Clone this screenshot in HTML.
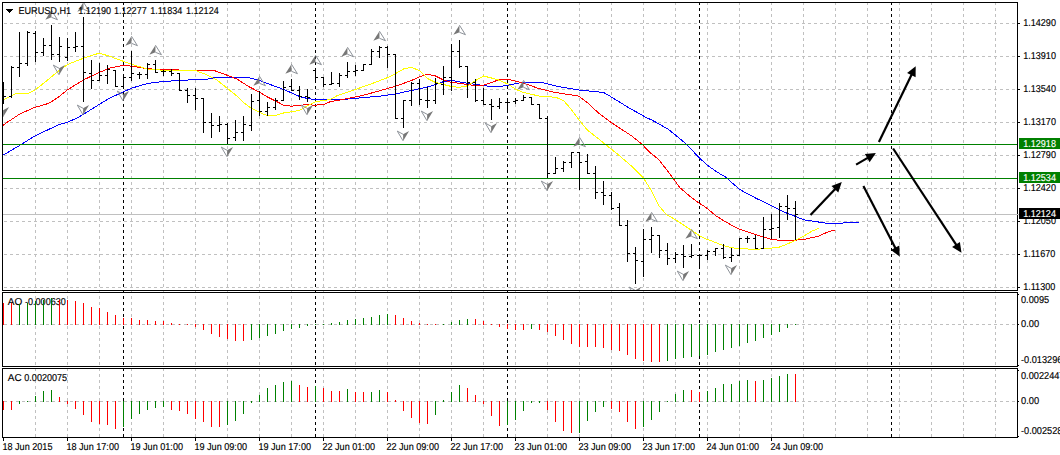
<!DOCTYPE html>
<html lang="en"><head><meta charset="utf-8"><title>EURUSD,H1</title>
<style>
html,body{margin:0;padding:0;background:#fff;}
body{width:1060px;height:455px;overflow:hidden;position:relative;font-family:"Liberation Sans",Arial,sans-serif;}
svg{display:block}
</style></head><body>
<svg width="1060" height="455" viewBox="0 0 1060 455" style="position:absolute;left:0;top:0">
<rect x="0" y="0" width="1060" height="455" fill="#ffffff"/>
<g shape-rendering="crispEdges">
<g stroke="#c0c0c0" stroke-width="1" stroke-dasharray="3 3" fill="none">
<line x1="35.5" y1="2" x2="35.5" y2="437"/>
<line x1="67.5" y1="2" x2="67.5" y2="437"/>
<line x1="99.5" y1="2" x2="99.5" y2="437"/>
<line x1="131.5" y1="2" x2="131.5" y2="437"/>
<line x1="163.5" y1="2" x2="163.5" y2="437"/>
<line x1="195.5" y1="2" x2="195.5" y2="437"/>
<line x1="227.5" y1="2" x2="227.5" y2="437"/>
<line x1="259.5" y1="2" x2="259.5" y2="437"/>
<line x1="291.5" y1="2" x2="291.5" y2="437"/>
<line x1="323.5" y1="2" x2="323.5" y2="437"/>
<line x1="355.5" y1="2" x2="355.5" y2="437"/>
<line x1="387.5" y1="2" x2="387.5" y2="437"/>
<line x1="419.5" y1="2" x2="419.5" y2="437"/>
<line x1="451.5" y1="2" x2="451.5" y2="437"/>
<line x1="483.5" y1="2" x2="483.5" y2="437"/>
<line x1="515.5" y1="2" x2="515.5" y2="437"/>
<line x1="547.5" y1="2" x2="547.5" y2="437"/>
<line x1="579.5" y1="2" x2="579.5" y2="437"/>
<line x1="611.5" y1="2" x2="611.5" y2="437"/>
<line x1="643.5" y1="2" x2="643.5" y2="437"/>
<line x1="675.5" y1="2" x2="675.5" y2="437"/>
<line x1="707.5" y1="2" x2="707.5" y2="437"/>
<line x1="739.5" y1="2" x2="739.5" y2="437"/>
<line x1="771.5" y1="2" x2="771.5" y2="437"/>
<line x1="803.5" y1="2" x2="803.5" y2="437"/>
<line x1="835.5" y1="2" x2="835.5" y2="437"/>
<line x1="867.5" y1="2" x2="867.5" y2="437"/>
<line x1="899.5" y1="2" x2="899.5" y2="437"/>
<line x1="931.5" y1="2" x2="931.5" y2="437"/>
<line x1="963.5" y1="2" x2="963.5" y2="437"/>
<line x1="995.5" y1="2" x2="995.5" y2="437"/>
<line x1="4" y1="23.5" x2="1017" y2="23.5"/>
<line x1="4" y1="56.5" x2="1017" y2="56.5"/>
<line x1="4" y1="89.5" x2="1017" y2="89.5"/>
<line x1="4" y1="122.5" x2="1017" y2="122.5"/>
<line x1="4" y1="155.5" x2="1017" y2="155.5"/>
<line x1="4" y1="188.5" x2="1017" y2="188.5"/>
<line x1="4" y1="221.5" x2="1017" y2="221.5"/>
<line x1="4" y1="254.5" x2="1017" y2="254.5"/>
<line x1="4" y1="287.5" x2="1017" y2="287.5"/>
<line x1="4" y1="324.5" x2="1017" y2="324.5"/>
<line x1="4" y1="401.5" x2="1017" y2="401.5"/>
</g>
<rect x="0" y="367" width="1060" height="1" fill="#ffffff"/>
<g stroke="#000000" stroke-width="1" stroke-dasharray="3 3" fill="none">
<line x1="123.5" y1="2" x2="123.5" y2="437"/>
<line x1="315.5" y1="2" x2="315.5" y2="437"/>
<line x1="507.5" y1="2" x2="507.5" y2="437"/>
<line x1="699.5" y1="2" x2="699.5" y2="437"/>
<line x1="891.5" y1="2" x2="891.5" y2="437"/>
</g>
<rect x="0" y="367" width="1060" height="1" fill="#ffffff"/>
<rect x="3" y="214" width="1016" height="1" fill="#c0c0c0"/>
</g>
<g font-family="'Liberation Sans', Arial, sans-serif" font-size="10px" text-rendering="geometricPrecision">
<text transform="translate(7.8,304.85) scale(1.0,1)" fill="#000" stroke="#000" stroke-width="0.15">AO</text>
<text transform="translate(25.0,304.85) scale(0.905,1)" fill="#000" stroke="#000" stroke-width="0.15">-0.000630</text>
<text transform="translate(7.8,380.85) scale(1.0,1)" fill="#000" stroke="#000" stroke-width="0.15">AC</text>
<text transform="translate(24.3,380.85) scale(0.905,1)" fill="#000" stroke="#000" stroke-width="0.15">0.0020075</text>
</g>
<g shape-rendering="crispEdges">
<rect x="3" y="303" width="1" height="22" fill="#ff0000"/>
<rect x="11" y="303" width="1" height="22" fill="#ff0000"/>
<rect x="19" y="304" width="1" height="21" fill="#008000"/>
<rect x="27" y="303" width="1" height="22" fill="#008000"/>
<rect x="35" y="301" width="1" height="24" fill="#008000"/>
<rect x="43" y="300" width="1" height="25" fill="#008000"/>
<rect x="51" y="298" width="1" height="27" fill="#008000"/>
<rect x="59" y="300" width="1" height="25" fill="#ff0000"/>
<rect x="67" y="300" width="1" height="25" fill="#ff0000"/>
<rect x="75" y="301" width="1" height="24" fill="#ff0000"/>
<rect x="83" y="303" width="1" height="22" fill="#ff0000"/>
<rect x="91" y="307" width="1" height="18" fill="#ff0000"/>
<rect x="99" y="308" width="1" height="17" fill="#ff0000"/>
<rect x="107" y="312" width="1" height="13" fill="#ff0000"/>
<rect x="115" y="315" width="1" height="10" fill="#ff0000"/>
<rect x="123" y="318" width="1" height="7" fill="#ff0000"/>
<rect x="131" y="318" width="1" height="7" fill="#ff0000"/>
<rect x="139" y="320" width="1" height="5" fill="#ff0000"/>
<rect x="147" y="320" width="1" height="5" fill="#ff0000"/>
<rect x="155" y="321" width="1" height="4" fill="#ff0000"/>
<rect x="163" y="321" width="1" height="4" fill="#ff0000"/>
<rect x="171" y="323" width="1" height="2" fill="#ff0000"/>
<rect x="179" y="324" width="1" height="1" fill="#ff0000"/>
<rect x="187" y="324" width="1" height="1" fill="#ff0000"/>
<rect x="195" y="324" width="1" height="3" fill="#ff0000"/>
<rect x="203" y="324" width="1" height="6" fill="#ff0000"/>
<rect x="211" y="324" width="1" height="10" fill="#ff0000"/>
<rect x="219" y="324" width="1" height="13" fill="#ff0000"/>
<rect x="227" y="324" width="1" height="15" fill="#ff0000"/>
<rect x="235" y="324" width="1" height="17" fill="#ff0000"/>
<rect x="243" y="324" width="1" height="17" fill="#ff0000"/>
<rect x="251" y="324" width="1" height="16" fill="#008000"/>
<rect x="259" y="324" width="1" height="14" fill="#008000"/>
<rect x="267" y="324" width="1" height="12" fill="#008000"/>
<rect x="275" y="324" width="1" height="10" fill="#008000"/>
<rect x="283" y="324" width="1" height="7" fill="#008000"/>
<rect x="291" y="324" width="1" height="5" fill="#008000"/>
<rect x="299" y="324" width="1" height="4" fill="#008000"/>
<rect x="307" y="324" width="1" height="2" fill="#008000"/>
<rect x="315" y="324" width="1" height="1" fill="#008000"/>
<rect x="323" y="324" width="1" height="1" fill="#008000"/>
<rect x="331" y="323" width="1" height="2" fill="#008000"/>
<rect x="339" y="322" width="1" height="3" fill="#008000"/>
<rect x="347" y="320" width="1" height="5" fill="#008000"/>
<rect x="355" y="319" width="1" height="6" fill="#008000"/>
<rect x="363" y="318" width="1" height="7" fill="#008000"/>
<rect x="371" y="317" width="1" height="8" fill="#008000"/>
<rect x="379" y="315" width="1" height="10" fill="#008000"/>
<rect x="387" y="314" width="1" height="11" fill="#008000"/>
<rect x="395" y="315" width="1" height="10" fill="#ff0000"/>
<rect x="403" y="318" width="1" height="7" fill="#ff0000"/>
<rect x="411" y="321" width="1" height="4" fill="#ff0000"/>
<rect x="419" y="323" width="1" height="2" fill="#ff0000"/>
<rect x="427" y="324" width="1" height="1" fill="#ff0000"/>
<rect x="435" y="324" width="1" height="1" fill="#ff0000"/>
<rect x="443" y="324" width="1" height="1" fill="#008000"/>
<rect x="451" y="322" width="1" height="3" fill="#008000"/>
<rect x="459" y="320" width="1" height="5" fill="#008000"/>
<rect x="467" y="319" width="1" height="6" fill="#008000"/>
<rect x="475" y="319" width="1" height="6" fill="#ff0000"/>
<rect x="483" y="321" width="1" height="4" fill="#ff0000"/>
<rect x="491" y="324" width="1" height="1" fill="#ff0000"/>
<rect x="499" y="324" width="1" height="3" fill="#ff0000"/>
<rect x="507" y="324" width="1" height="5" fill="#ff0000"/>
<rect x="515" y="324" width="1" height="6" fill="#ff0000"/>
<rect x="523" y="324" width="1" height="6" fill="#ff0000"/>
<rect x="531" y="324" width="1" height="5" fill="#008000"/>
<rect x="539" y="324" width="1" height="6" fill="#ff0000"/>
<rect x="547" y="324" width="1" height="8" fill="#ff0000"/>
<rect x="555" y="324" width="1" height="12" fill="#ff0000"/>
<rect x="563" y="324" width="1" height="16" fill="#ff0000"/>
<rect x="571" y="324" width="1" height="20" fill="#ff0000"/>
<rect x="579" y="324" width="1" height="23" fill="#ff0000"/>
<rect x="587" y="324" width="1" height="23" fill="#ff0000"/>
<rect x="595" y="324" width="1" height="23" fill="#ff0000"/>
<rect x="603" y="324" width="1" height="24" fill="#ff0000"/>
<rect x="611" y="324" width="1" height="26" fill="#ff0000"/>
<rect x="619" y="324" width="1" height="27" fill="#ff0000"/>
<rect x="627" y="324" width="1" height="31" fill="#ff0000"/>
<rect x="635" y="324" width="1" height="35" fill="#ff0000"/>
<rect x="643" y="324" width="1" height="37" fill="#ff0000"/>
<rect x="651" y="324" width="1" height="38" fill="#ff0000"/>
<rect x="659" y="324" width="1" height="38" fill="#ff0000"/>
<rect x="667" y="324" width="1" height="37" fill="#008000"/>
<rect x="675" y="324" width="1" height="35" fill="#008000"/>
<rect x="683" y="324" width="1" height="34" fill="#008000"/>
<rect x="691" y="324" width="1" height="33" fill="#008000"/>
<rect x="699" y="324" width="1" height="32" fill="#008000"/>
<rect x="707" y="324" width="1" height="31" fill="#008000"/>
<rect x="715" y="324" width="1" height="28" fill="#008000"/>
<rect x="723" y="324" width="1" height="26" fill="#008000"/>
<rect x="731" y="324" width="1" height="24" fill="#008000"/>
<rect x="739" y="324" width="1" height="22" fill="#008000"/>
<rect x="747" y="324" width="1" height="19" fill="#008000"/>
<rect x="755" y="324" width="1" height="17" fill="#008000"/>
<rect x="763" y="324" width="1" height="14" fill="#008000"/>
<rect x="771" y="324" width="1" height="11" fill="#008000"/>
<rect x="779" y="324" width="1" height="8" fill="#008000"/>
<rect x="787" y="324" width="1" height="4" fill="#008000"/>
<rect x="795" y="324" width="1" height="1" fill="#008000"/>
<rect x="3" y="401" width="1" height="9" fill="#ff0000"/>
<rect x="11" y="401" width="1" height="9" fill="#ff0000"/>
<rect x="19" y="401" width="1" height="3" fill="#008000"/>
<rect x="27" y="401" width="1" height="1" fill="#008000"/>
<rect x="35" y="396" width="1" height="6" fill="#008000"/>
<rect x="43" y="391" width="1" height="11" fill="#008000"/>
<rect x="51" y="390" width="1" height="12" fill="#008000"/>
<rect x="59" y="397" width="1" height="5" fill="#ff0000"/>
<rect x="67" y="401" width="1" height="3" fill="#ff0000"/>
<rect x="75" y="401" width="1" height="8" fill="#ff0000"/>
<rect x="83" y="401" width="1" height="14" fill="#ff0000"/>
<rect x="91" y="401" width="1" height="21" fill="#ff0000"/>
<rect x="99" y="401" width="1" height="23" fill="#ff0000"/>
<rect x="107" y="401" width="1" height="24" fill="#ff0000"/>
<rect x="115" y="401" width="1" height="28" fill="#ff0000"/>
<rect x="123" y="401" width="1" height="26" fill="#008000"/>
<rect x="131" y="401" width="1" height="18" fill="#008000"/>
<rect x="139" y="401" width="1" height="13" fill="#008000"/>
<rect x="147" y="401" width="1" height="9" fill="#008000"/>
<rect x="155" y="401" width="1" height="7" fill="#008000"/>
<rect x="163" y="401" width="1" height="6" fill="#008000"/>
<rect x="171" y="401" width="1" height="9" fill="#ff0000"/>
<rect x="179" y="401" width="1" height="10" fill="#ff0000"/>
<rect x="187" y="401" width="1" height="13" fill="#ff0000"/>
<rect x="195" y="401" width="1" height="18" fill="#ff0000"/>
<rect x="203" y="401" width="1" height="21" fill="#ff0000"/>
<rect x="211" y="401" width="1" height="26" fill="#ff0000"/>
<rect x="219" y="401" width="1" height="26" fill="#ff0000"/>
<rect x="227" y="401" width="1" height="24" fill="#008000"/>
<rect x="235" y="401" width="1" height="20" fill="#008000"/>
<rect x="243" y="401" width="1" height="13" fill="#008000"/>
<rect x="251" y="401" width="1" height="2" fill="#008000"/>
<rect x="259" y="395" width="1" height="7" fill="#008000"/>
<rect x="267" y="388" width="1" height="14" fill="#008000"/>
<rect x="275" y="385" width="1" height="17" fill="#008000"/>
<rect x="283" y="382" width="1" height="20" fill="#008000"/>
<rect x="291" y="381" width="1" height="21" fill="#008000"/>
<rect x="299" y="385" width="1" height="17" fill="#ff0000"/>
<rect x="307" y="387" width="1" height="15" fill="#ff0000"/>
<rect x="315" y="386" width="1" height="16" fill="#008000"/>
<rect x="323" y="388" width="1" height="14" fill="#ff0000"/>
<rect x="331" y="391" width="1" height="11" fill="#ff0000"/>
<rect x="339" y="391" width="1" height="11" fill="#ff0000"/>
<rect x="347" y="389" width="1" height="13" fill="#008000"/>
<rect x="355" y="392" width="1" height="10" fill="#ff0000"/>
<rect x="363" y="392" width="1" height="10" fill="#ff0000"/>
<rect x="371" y="392" width="1" height="10" fill="#008000"/>
<rect x="379" y="390" width="1" height="12" fill="#008000"/>
<rect x="387" y="392" width="1" height="10" fill="#ff0000"/>
<rect x="395" y="400" width="1" height="2" fill="#ff0000"/>
<rect x="403" y="401" width="1" height="10" fill="#ff0000"/>
<rect x="411" y="401" width="1" height="17" fill="#ff0000"/>
<rect x="419" y="401" width="1" height="22" fill="#ff0000"/>
<rect x="427" y="401" width="1" height="23" fill="#ff0000"/>
<rect x="435" y="401" width="1" height="14" fill="#008000"/>
<rect x="443" y="400" width="1" height="2" fill="#008000"/>
<rect x="451" y="392" width="1" height="10" fill="#008000"/>
<rect x="459" y="385" width="1" height="17" fill="#008000"/>
<rect x="467" y="388" width="1" height="14" fill="#ff0000"/>
<rect x="475" y="395" width="1" height="7" fill="#ff0000"/>
<rect x="483" y="401" width="1" height="3" fill="#ff0000"/>
<rect x="491" y="401" width="1" height="15" fill="#ff0000"/>
<rect x="499" y="401" width="1" height="25" fill="#ff0000"/>
<rect x="507" y="401" width="1" height="24" fill="#008000"/>
<rect x="515" y="401" width="1" height="19" fill="#008000"/>
<rect x="523" y="401" width="1" height="10" fill="#008000"/>
<rect x="531" y="401" width="1" height="2" fill="#008000"/>
<rect x="539" y="401" width="1" height="2" fill="#008000"/>
<rect x="547" y="401" width="1" height="9" fill="#ff0000"/>
<rect x="555" y="401" width="1" height="21" fill="#ff0000"/>
<rect x="563" y="401" width="1" height="30" fill="#ff0000"/>
<rect x="571" y="401" width="1" height="32" fill="#ff0000"/>
<rect x="579" y="401" width="1" height="32" fill="#008000"/>
<rect x="587" y="401" width="1" height="20" fill="#008000"/>
<rect x="595" y="401" width="1" height="11" fill="#008000"/>
<rect x="603" y="401" width="1" height="6" fill="#008000"/>
<rect x="611" y="401" width="1" height="8" fill="#ff0000"/>
<rect x="619" y="401" width="1" height="11" fill="#ff0000"/>
<rect x="627" y="401" width="1" height="21" fill="#ff0000"/>
<rect x="635" y="401" width="1" height="28" fill="#ff0000"/>
<rect x="643" y="401" width="1" height="26" fill="#008000"/>
<rect x="651" y="401" width="1" height="19" fill="#008000"/>
<rect x="659" y="401" width="1" height="11" fill="#008000"/>
<rect x="667" y="401" width="1" height="1" fill="#008000"/>
<rect x="675" y="394" width="1" height="8" fill="#008000"/>
<rect x="683" y="390" width="1" height="12" fill="#008000"/>
<rect x="691" y="390" width="1" height="12" fill="#ff0000"/>
<rect x="699" y="392" width="1" height="10" fill="#ff0000"/>
<rect x="707" y="391" width="1" height="11" fill="#008000"/>
<rect x="715" y="388" width="1" height="14" fill="#008000"/>
<rect x="723" y="384" width="1" height="18" fill="#008000"/>
<rect x="731" y="384" width="1" height="18" fill="#008000"/>
<rect x="739" y="381" width="1" height="21" fill="#008000"/>
<rect x="747" y="380" width="1" height="22" fill="#008000"/>
<rect x="755" y="381" width="1" height="21" fill="#ff0000"/>
<rect x="763" y="380" width="1" height="22" fill="#008000"/>
<rect x="771" y="378" width="1" height="24" fill="#008000"/>
<rect x="779" y="376" width="1" height="26" fill="#008000"/>
<rect x="787" y="374" width="1" height="28" fill="#008000"/>
<rect x="795" y="374" width="1" height="28" fill="#ff0000"/>
</g>
<polyline points="3.0,155.2 19.7,145.4 35.6,135.5 59.1,124.6 67.5,122.2 77.3,118.0 83.4,114.3 99.3,104.4 109.2,98.3 123.5,91.8 131.4,88.2 147.5,83.5 163.5,81.4 179.5,80.6 195.5,79.5 206.4,79.3 213.6,77.8 247.9,77.6 258.3,80.1 268.6,84.0 279.0,87.6 291.5,92.8 299.5,96.5 307.5,98.5 315.5,99.8 330.0,99.8 345.0,99.3 383.0,95.8 395.5,93.9 411.5,90.5 427.5,86.9 435.5,84.6 443.5,81.6 451.5,80.3 459.5,81.9 467.5,83.2 475.5,84.3 483.5,85.6 491.5,86.5 499.5,86.5 507.5,85.5 515.4,83.6 523.0,82.2 541.0,82.4 558.8,86.6 579.4,90.0 603.7,92.5 611.7,97.2 627.5,107.0 646.0,117.4 651.8,120.0 667.6,128.8 676.4,135.8 686.9,144.6 699.2,157.8 708.0,165.7 716.8,171.9 725.6,177.1 739.7,189.5 755.5,198.0 771.5,205.8 779.5,209.8 787.5,213.5 795.5,216.4 803.4,219.7 811.9,221.0 825.0,223.0 835.6,223.3 847.5,222.8 858.7,222.1" fill="none" stroke="#0000ff" stroke-width="1" shape-rendering="crispEdges"/>
<polyline points="3.0,125.4 6.3,122.9 20.0,113.9 34.8,107.3 45.3,104.5 50.6,102.3 59.0,96.6 67.4,89.9 83.3,80.0 99.3,72.3 110.4,68.0 123.5,65.3 131.4,66.2 147.5,68.7 163.5,69.8 179.5,70.0 196.0,70.0 213.6,70.3 227.1,75.2 237.5,79.3 247.9,86.1 259.5,92.2 267.5,97.0 275.5,101.0 283.5,105.1 291.5,106.2 299.5,105.1 307.5,104.9 315.5,105.1 323.5,104.5 330.0,101.8 345.0,99.0 361.4,95.8 379.5,90.8 395.5,86.2 411.5,80.5 419.5,76.7 427.5,74.2 435.5,76.0 443.5,80.0 451.5,82.5 459.5,83.2 467.5,84.5 475.5,85.6 483.5,85.2 491.5,82.5 499.5,79.5 507.5,79.2 515.5,81.2 523.4,83.0 539.0,88.6 555.5,92.5 578.6,96.1 587.9,103.1 598.5,113.0 611.7,122.9 624.9,131.5 631.1,135.5 641.7,143.9 650.0,152.5 658.8,159.6 667.6,171.0 672.9,178.0 679.9,187.7 689.5,196.0 699.4,203.3 706.0,207.5 716.3,216.0 723.5,220.6 731.5,225.2 739.5,229.2 755.5,234.6 771.5,239.5 779.5,240.2 795.5,240.2 805.3,239.1 818.5,236.2 827.7,232.0 835.0,230.0" fill="none" stroke="#ff0000" stroke-width="1" shape-rendering="crispEdges"/>
<polyline points="3.0,100.2 11.6,95.5 16.9,93.4 28.5,93.1 34.8,90.2 47.7,80.0 58.0,71.3 67.5,64.5 83.3,58.3 99.3,53.1 110.0,56.4 131.4,64.3 147.5,69.0 163.5,70.3 195.5,70.5 206.4,74.7 216.8,79.9 227.1,88.2 237.5,96.5 243.5,102.5 251.5,108.4 259.5,112.4 267.5,115.7 275.8,115.4 283.5,113.0 299.6,110.4 307.5,105.8 315.5,101.8 323.5,100.5 330.0,99.6 337.0,95.8 355.4,89.5 371.4,83.8 387.5,77.6 395.5,73.6 403.5,69.0 411.4,67.3 419.5,70.6 427.5,78.5 435.5,82.5 443.5,84.5 451.5,86.5 459.5,87.4 467.5,85.8 475.5,80.6 483.5,76.0 491.5,78.0 499.5,80.3 507.5,83.9 515.5,89.2 523.5,92.5 531.5,94.3 539.5,96.2 555.5,97.2 563.5,100.5 571.5,109.7 579.4,120.3 587.5,130.2 599.8,139.8 604.7,143.9 617.9,154.4 631.1,165.7 643.0,177.3 651.9,191.4 658.5,205.3 666.4,214.5 675.6,219.8 680.0,222.6 691.9,230.5 699.5,235.8 707.4,239.5 715.5,242.4 723.5,245.7 731.5,247.7 739.5,248.6 755.5,249.4 771.5,248.1 779.5,247.0 787.5,243.9 795.5,240.5 803.4,236.2 811.9,231.2 819.1,228.3" fill="none" stroke="#ffff00" stroke-width="1" shape-rendering="crispEdges"/>
<g shape-rendering="crispEdges">
<rect x="3" y="144" width="1014" height="1" fill="#008000"/>
<rect x="3" y="178" width="1014" height="1" fill="#008000"/>
</g>
<clipPath id="cm"><rect x="3" y="3" width="1014" height="287"/></clipPath>
<g clip-path="url(#cm)">
<polygon points="51.45,10.20 45.35,19.70 51.45,17.30" fill="#777777"/>
<polyline points="51.45,10.20 57.45,19.70 51.45,17.30" fill="none" stroke="#8d9299" stroke-width="1"/>
<polygon points="83.45,2.20 77.35,11.70 83.45,9.30" fill="#777777"/>
<polyline points="83.45,2.20 89.45,11.70 83.45,9.30" fill="none" stroke="#8d9299" stroke-width="1"/>
<polygon points="131.45,36.20 125.35,45.70 131.45,43.30" fill="#777777"/>
<polyline points="131.45,36.20 137.45,45.70 131.45,43.30" fill="none" stroke="#8d9299" stroke-width="1"/>
<polygon points="155.45,45.20 149.35,54.70 155.45,52.30" fill="#777777"/>
<polyline points="155.45,45.20 161.45,54.70 155.45,52.30" fill="none" stroke="#8d9299" stroke-width="1"/>
<polygon points="259.45,76.20 253.35,85.70 259.45,83.30" fill="#777777"/>
<polyline points="259.45,76.20 265.45,85.70 259.45,83.30" fill="none" stroke="#8d9299" stroke-width="1"/>
<polygon points="291.45,64.20 285.35,73.70 291.45,71.30" fill="#777777"/>
<polyline points="291.45,64.20 297.45,73.70 291.45,71.30" fill="none" stroke="#8d9299" stroke-width="1"/>
<polygon points="315.45,55.20 309.35,64.70 315.45,62.30" fill="#777777"/>
<polyline points="315.45,55.20 321.45,64.70 315.45,62.30" fill="none" stroke="#8d9299" stroke-width="1"/>
<polygon points="347.45,47.20 341.35,56.70 347.45,54.30" fill="#777777"/>
<polyline points="347.45,47.20 353.45,56.70 347.45,54.30" fill="none" stroke="#8d9299" stroke-width="1"/>
<polygon points="379.45,31.20 373.35,40.70 379.45,38.30" fill="#777777"/>
<polyline points="379.45,31.20 385.45,40.70 379.45,38.30" fill="none" stroke="#8d9299" stroke-width="1"/>
<polygon points="459.45,25.20 453.35,34.70 459.45,32.30" fill="#777777"/>
<polyline points="459.45,25.20 465.45,34.70 459.45,32.30" fill="none" stroke="#8d9299" stroke-width="1"/>
<polygon points="523.45,80.20 517.35,89.70 523.45,87.30" fill="#777777"/>
<polyline points="523.45,80.20 529.45,89.70 523.45,87.30" fill="none" stroke="#8d9299" stroke-width="1"/>
<polygon points="579.45,137.20 573.35,146.70 579.45,144.30" fill="#777777"/>
<polyline points="579.45,137.20 585.45,146.70 579.45,144.30" fill="none" stroke="#8d9299" stroke-width="1"/>
<polygon points="651.45,212.20 645.35,221.70 651.45,219.30" fill="#777777"/>
<polyline points="651.45,212.20 657.45,221.70 651.45,219.30" fill="none" stroke="#8d9299" stroke-width="1"/>
<polygon points="691.45,229.20 685.35,238.70 691.45,236.30" fill="#777777"/>
<polyline points="691.45,229.20 697.45,238.70 691.45,236.30" fill="none" stroke="#8d9299" stroke-width="1"/>
<polygon points="3.10,116.90 9.10,107.10 3.10,110.30" fill="#777777"/>
<polyline points="3.10,116.90 -2.70,107.10 3.10,110.30" fill="none" stroke="#8d9299" stroke-width="1"/>
<polygon points="59.10,74.90 65.10,65.10 59.10,68.30" fill="#777777"/>
<polyline points="59.10,74.90 53.30,65.10 59.10,68.30" fill="none" stroke="#8d9299" stroke-width="1"/>
<polygon points="83.10,114.90 89.10,105.10 83.10,108.30" fill="#777777"/>
<polyline points="83.10,114.90 77.30,105.10 83.10,108.30" fill="none" stroke="#8d9299" stroke-width="1"/>
<polygon points="123.10,100.90 129.10,91.10 123.10,94.30" fill="#777777"/>
<polyline points="123.10,100.90 117.30,91.10 123.10,94.30" fill="none" stroke="#8d9299" stroke-width="1"/>
<polygon points="227.10,156.90 233.10,147.10 227.10,150.30" fill="#777777"/>
<polyline points="227.10,156.90 221.30,147.10 227.10,150.30" fill="none" stroke="#8d9299" stroke-width="1"/>
<polygon points="307.10,114.90 313.10,105.10 307.10,108.30" fill="#777777"/>
<polyline points="307.10,114.90 301.30,105.10 307.10,108.30" fill="none" stroke="#8d9299" stroke-width="1"/>
<polygon points="403.10,140.90 409.10,131.10 403.10,134.30" fill="#777777"/>
<polyline points="403.10,140.90 397.30,131.10 403.10,134.30" fill="none" stroke="#8d9299" stroke-width="1"/>
<polygon points="427.10,120.90 433.10,111.10 427.10,114.30" fill="#777777"/>
<polyline points="427.10,120.90 421.30,111.10 427.10,114.30" fill="none" stroke="#8d9299" stroke-width="1"/>
<polygon points="491.10,132.90 497.10,123.10 491.10,126.30" fill="#777777"/>
<polyline points="491.10,132.90 485.30,123.10 491.10,126.30" fill="none" stroke="#8d9299" stroke-width="1"/>
<polygon points="547.10,190.90 553.10,181.10 547.10,184.30" fill="#777777"/>
<polyline points="547.10,190.90 541.30,181.10 547.10,184.30" fill="none" stroke="#8d9299" stroke-width="1"/>
<polygon points="635.10,296.90 641.10,287.10 635.10,290.30" fill="#777777"/>
<polyline points="635.10,296.90 629.30,287.10 635.10,290.30" fill="none" stroke="#8d9299" stroke-width="1"/>
<polygon points="683.10,280.90 689.10,271.10 683.10,274.30" fill="#777777"/>
<polyline points="683.10,280.90 677.30,271.10 683.10,274.30" fill="none" stroke="#8d9299" stroke-width="1"/>
<polygon points="731.10,274.90 737.10,265.10 731.10,268.30" fill="#777777"/>
<polyline points="731.10,274.90 725.30,265.10 731.10,268.30" fill="none" stroke="#8d9299" stroke-width="1"/>
</g>
<g shape-rendering="crispEdges">
<g fill="#000000">
<rect x="3" y="82" width="1" height="22"/>
<rect x="4" y="96" width="2" height="1"/>
<rect x="11" y="66" width="1" height="32"/>
<rect x="9" y="96" width="2" height="1"/>
<rect x="12" y="67" width="2" height="1"/>
<rect x="19" y="32" width="1" height="45"/>
<rect x="17" y="67" width="2" height="1"/>
<rect x="20" y="63" width="2" height="1"/>
<rect x="27" y="31" width="1" height="35"/>
<rect x="25" y="63" width="2" height="1"/>
<rect x="28" y="32" width="2" height="1"/>
<rect x="35" y="31" width="1" height="31"/>
<rect x="33" y="33" width="2" height="1"/>
<rect x="36" y="52" width="2" height="1"/>
<rect x="43" y="38" width="1" height="18"/>
<rect x="41" y="52" width="2" height="1"/>
<rect x="44" y="45" width="2" height="1"/>
<rect x="51" y="25" width="1" height="35"/>
<rect x="49" y="45" width="2" height="1"/>
<rect x="52" y="54" width="2" height="1"/>
<rect x="59" y="37" width="1" height="25"/>
<rect x="57" y="54" width="2" height="1"/>
<rect x="60" y="46" width="2" height="1"/>
<rect x="67" y="38" width="1" height="23"/>
<rect x="65" y="57" width="2" height="1"/>
<rect x="68" y="47" width="2" height="1"/>
<rect x="75" y="32" width="1" height="20"/>
<rect x="73" y="47" width="2" height="1"/>
<rect x="76" y="46" width="2" height="1"/>
<rect x="83" y="17" width="1" height="85"/>
<rect x="81" y="46" width="2" height="1"/>
<rect x="84" y="72" width="2" height="1"/>
<rect x="91" y="60" width="1" height="29"/>
<rect x="89" y="73" width="2" height="1"/>
<rect x="92" y="80" width="2" height="1"/>
<rect x="99" y="63" width="1" height="18"/>
<rect x="97" y="80" width="2" height="1"/>
<rect x="100" y="75" width="2" height="1"/>
<rect x="107" y="65" width="1" height="19"/>
<rect x="105" y="75" width="2" height="1"/>
<rect x="108" y="69" width="2" height="1"/>
<rect x="115" y="70" width="1" height="17"/>
<rect x="113" y="70" width="2" height="1"/>
<rect x="116" y="86" width="2" height="1"/>
<rect x="123" y="74" width="1" height="14"/>
<rect x="121" y="86" width="2" height="1"/>
<rect x="124" y="77" width="2" height="1"/>
<rect x="131" y="51" width="1" height="30"/>
<rect x="129" y="77" width="2" height="1"/>
<rect x="132" y="73" width="2" height="1"/>
<rect x="139" y="72" width="1" height="7"/>
<rect x="137" y="74" width="2" height="1"/>
<rect x="140" y="74" width="2" height="1"/>
<rect x="147" y="63" width="1" height="16"/>
<rect x="145" y="74" width="2" height="1"/>
<rect x="148" y="64" width="2" height="1"/>
<rect x="155" y="60" width="1" height="13"/>
<rect x="153" y="64" width="2" height="1"/>
<rect x="156" y="72" width="2" height="1"/>
<rect x="163" y="70" width="1" height="6"/>
<rect x="161" y="71" width="2" height="1"/>
<rect x="164" y="71" width="2" height="1"/>
<rect x="171" y="69" width="1" height="7"/>
<rect x="169" y="71" width="2" height="1"/>
<rect x="172" y="73" width="2" height="1"/>
<rect x="179" y="73" width="1" height="18"/>
<rect x="177" y="73" width="2" height="1"/>
<rect x="180" y="90" width="2" height="1"/>
<rect x="187" y="88" width="1" height="15"/>
<rect x="185" y="90" width="2" height="1"/>
<rect x="188" y="95" width="2" height="1"/>
<rect x="195" y="88" width="1" height="22"/>
<rect x="193" y="95" width="2" height="1"/>
<rect x="196" y="98" width="2" height="1"/>
<rect x="203" y="98" width="1" height="35"/>
<rect x="201" y="98" width="2" height="1"/>
<rect x="204" y="122" width="2" height="1"/>
<rect x="211" y="113" width="1" height="25"/>
<rect x="209" y="122" width="2" height="1"/>
<rect x="212" y="125" width="2" height="1"/>
<rect x="219" y="116" width="1" height="16"/>
<rect x="217" y="125" width="2" height="1"/>
<rect x="220" y="124" width="2" height="1"/>
<rect x="227" y="123" width="1" height="21"/>
<rect x="225" y="124" width="2" height="1"/>
<rect x="228" y="138" width="2" height="1"/>
<rect x="235" y="120" width="1" height="21"/>
<rect x="233" y="137" width="2" height="1"/>
<rect x="236" y="132" width="2" height="1"/>
<rect x="243" y="116" width="1" height="25"/>
<rect x="241" y="132" width="2" height="1"/>
<rect x="244" y="124" width="2" height="1"/>
<rect x="251" y="94" width="1" height="37"/>
<rect x="249" y="125" width="2" height="1"/>
<rect x="252" y="101" width="2" height="1"/>
<rect x="259" y="91" width="1" height="25"/>
<rect x="257" y="100" width="2" height="1"/>
<rect x="260" y="111" width="2" height="1"/>
<rect x="267" y="102" width="1" height="14"/>
<rect x="265" y="111" width="2" height="1"/>
<rect x="268" y="107" width="2" height="1"/>
<rect x="275" y="98" width="1" height="12"/>
<rect x="273" y="107" width="2" height="1"/>
<rect x="276" y="100" width="2" height="1"/>
<rect x="283" y="81" width="1" height="20"/>
<rect x="281" y="100" width="2" height="1"/>
<rect x="284" y="87" width="2" height="1"/>
<rect x="291" y="79" width="1" height="12"/>
<rect x="289" y="86" width="2" height="1"/>
<rect x="292" y="90" width="2" height="1"/>
<rect x="299" y="86" width="1" height="14"/>
<rect x="297" y="90" width="2" height="1"/>
<rect x="300" y="96" width="2" height="1"/>
<rect x="307" y="89" width="1" height="13"/>
<rect x="305" y="96" width="2" height="1"/>
<rect x="308" y="97" width="2" height="1"/>
<rect x="315" y="70" width="1" height="13"/>
<rect x="313" y="70" width="2" height="1"/>
<rect x="316" y="77" width="2" height="1"/>
<rect x="323" y="77" width="1" height="10"/>
<rect x="321" y="77" width="2" height="1"/>
<rect x="324" y="84" width="2" height="1"/>
<rect x="331" y="72" width="1" height="13"/>
<rect x="329" y="84" width="2" height="1"/>
<rect x="332" y="83" width="2" height="1"/>
<rect x="339" y="73" width="1" height="14"/>
<rect x="337" y="83" width="2" height="1"/>
<rect x="340" y="75" width="2" height="1"/>
<rect x="347" y="62" width="1" height="16"/>
<rect x="345" y="75" width="2" height="1"/>
<rect x="348" y="71" width="2" height="1"/>
<rect x="355" y="65" width="1" height="11"/>
<rect x="353" y="71" width="2" height="1"/>
<rect x="356" y="70" width="2" height="1"/>
<rect x="363" y="64" width="1" height="7"/>
<rect x="361" y="70" width="2" height="1"/>
<rect x="364" y="64" width="2" height="1"/>
<rect x="371" y="49" width="1" height="16"/>
<rect x="369" y="64" width="2" height="1"/>
<rect x="372" y="51" width="2" height="1"/>
<rect x="379" y="46" width="1" height="12"/>
<rect x="377" y="51" width="2" height="1"/>
<rect x="380" y="47" width="2" height="1"/>
<rect x="387" y="46" width="1" height="22"/>
<rect x="385" y="47" width="2" height="1"/>
<rect x="388" y="54" width="2" height="1"/>
<rect x="395" y="54" width="1" height="65"/>
<rect x="393" y="54" width="2" height="1"/>
<rect x="396" y="118" width="2" height="1"/>
<rect x="403" y="100" width="1" height="28"/>
<rect x="401" y="118" width="2" height="1"/>
<rect x="404" y="100" width="2" height="1"/>
<rect x="411" y="82" width="1" height="24"/>
<rect x="409" y="100" width="2" height="1"/>
<rect x="412" y="83" width="2" height="1"/>
<rect x="419" y="79" width="1" height="26"/>
<rect x="417" y="83" width="2" height="1"/>
<rect x="420" y="99" width="2" height="1"/>
<rect x="427" y="87" width="1" height="21"/>
<rect x="425" y="100" width="2" height="1"/>
<rect x="428" y="100" width="2" height="1"/>
<rect x="435" y="78" width="1" height="26"/>
<rect x="433" y="100" width="2" height="1"/>
<rect x="436" y="83" width="2" height="1"/>
<rect x="443" y="66" width="1" height="29"/>
<rect x="441" y="84" width="2" height="1"/>
<rect x="444" y="77" width="2" height="1"/>
<rect x="451" y="44" width="1" height="47"/>
<rect x="449" y="77" width="2" height="1"/>
<rect x="452" y="51" width="2" height="1"/>
<rect x="459" y="40" width="1" height="28"/>
<rect x="457" y="51" width="2" height="1"/>
<rect x="460" y="66" width="2" height="1"/>
<rect x="467" y="66" width="1" height="32"/>
<rect x="465" y="66" width="2" height="1"/>
<rect x="468" y="82" width="2" height="1"/>
<rect x="475" y="79" width="1" height="23"/>
<rect x="473" y="82" width="2" height="1"/>
<rect x="476" y="100" width="2" height="1"/>
<rect x="483" y="88" width="1" height="17"/>
<rect x="481" y="100" width="2" height="1"/>
<rect x="484" y="104" width="2" height="1"/>
<rect x="491" y="99" width="1" height="21"/>
<rect x="489" y="104" width="2" height="1"/>
<rect x="492" y="106" width="2" height="1"/>
<rect x="499" y="98" width="1" height="11"/>
<rect x="497" y="106" width="2" height="1"/>
<rect x="500" y="102" width="2" height="1"/>
<rect x="507" y="98" width="1" height="14"/>
<rect x="505" y="102" width="2" height="1"/>
<rect x="508" y="102" width="2" height="1"/>
<rect x="515" y="98" width="1" height="6"/>
<rect x="513" y="101" width="2" height="1"/>
<rect x="516" y="100" width="2" height="1"/>
<rect x="523" y="95" width="1" height="6"/>
<rect x="521" y="100" width="2" height="1"/>
<rect x="524" y="97" width="2" height="1"/>
<rect x="531" y="97" width="1" height="8"/>
<rect x="529" y="97" width="2" height="1"/>
<rect x="532" y="104" width="2" height="1"/>
<rect x="539" y="104" width="1" height="15"/>
<rect x="537" y="104" width="2" height="1"/>
<rect x="540" y="118" width="2" height="1"/>
<rect x="547" y="116" width="1" height="62"/>
<rect x="545" y="118" width="2" height="1"/>
<rect x="548" y="173" width="2" height="1"/>
<rect x="555" y="157" width="1" height="17"/>
<rect x="553" y="173" width="2" height="1"/>
<rect x="556" y="168" width="2" height="1"/>
<rect x="563" y="161" width="1" height="11"/>
<rect x="561" y="168" width="2" height="1"/>
<rect x="564" y="162" width="2" height="1"/>
<rect x="571" y="152" width="1" height="16"/>
<rect x="569" y="162" width="2" height="1"/>
<rect x="572" y="152" width="2" height="1"/>
<rect x="579" y="152" width="1" height="38"/>
<rect x="577" y="152" width="2" height="1"/>
<rect x="580" y="162" width="2" height="1"/>
<rect x="587" y="154" width="1" height="20"/>
<rect x="585" y="161" width="2" height="1"/>
<rect x="588" y="173" width="2" height="1"/>
<rect x="595" y="166" width="1" height="33"/>
<rect x="593" y="173" width="2" height="1"/>
<rect x="596" y="192" width="2" height="1"/>
<rect x="603" y="181" width="1" height="24"/>
<rect x="601" y="192" width="2" height="1"/>
<rect x="604" y="195" width="2" height="1"/>
<rect x="611" y="192" width="1" height="18"/>
<rect x="609" y="195" width="2" height="1"/>
<rect x="612" y="208" width="2" height="1"/>
<rect x="619" y="203" width="1" height="23"/>
<rect x="617" y="207" width="2" height="1"/>
<rect x="620" y="225" width="2" height="1"/>
<rect x="627" y="220" width="1" height="42"/>
<rect x="625" y="225" width="2" height="1"/>
<rect x="628" y="253" width="2" height="1"/>
<rect x="635" y="247" width="1" height="37"/>
<rect x="633" y="253" width="2" height="1"/>
<rect x="636" y="260" width="2" height="1"/>
<rect x="643" y="229" width="1" height="48"/>
<rect x="641" y="261" width="2" height="1"/>
<rect x="644" y="239" width="2" height="1"/>
<rect x="651" y="227" width="1" height="26"/>
<rect x="649" y="239" width="2" height="1"/>
<rect x="652" y="235" width="2" height="1"/>
<rect x="659" y="235" width="1" height="23"/>
<rect x="657" y="235" width="2" height="1"/>
<rect x="660" y="250" width="2" height="1"/>
<rect x="667" y="243" width="1" height="22"/>
<rect x="665" y="250" width="2" height="1"/>
<rect x="668" y="258" width="2" height="1"/>
<rect x="675" y="252" width="1" height="11"/>
<rect x="673" y="258" width="2" height="1"/>
<rect x="676" y="254" width="2" height="1"/>
<rect x="683" y="245" width="1" height="23"/>
<rect x="681" y="254" width="2" height="1"/>
<rect x="684" y="256" width="2" height="1"/>
<rect x="691" y="244" width="1" height="14"/>
<rect x="689" y="256" width="2" height="1"/>
<rect x="692" y="255" width="2" height="1"/>
<rect x="699" y="254" width="1" height="15"/>
<rect x="697" y="255" width="2" height="1"/>
<rect x="700" y="255" width="2" height="1"/>
<rect x="707" y="250" width="1" height="10"/>
<rect x="705" y="255" width="2" height="1"/>
<rect x="708" y="251" width="2" height="1"/>
<rect x="715" y="248" width="1" height="8"/>
<rect x="713" y="251" width="2" height="1"/>
<rect x="716" y="248" width="2" height="1"/>
<rect x="723" y="244" width="1" height="15"/>
<rect x="721" y="248" width="2" height="1"/>
<rect x="724" y="257" width="2" height="1"/>
<rect x="731" y="248" width="1" height="14"/>
<rect x="729" y="257" width="2" height="1"/>
<rect x="732" y="255" width="2" height="1"/>
<rect x="739" y="238" width="1" height="18"/>
<rect x="737" y="255" width="2" height="1"/>
<rect x="740" y="238" width="2" height="1"/>
<rect x="747" y="236" width="1" height="7"/>
<rect x="745" y="238" width="2" height="1"/>
<rect x="748" y="238" width="2" height="1"/>
<rect x="755" y="235" width="1" height="14"/>
<rect x="753" y="238" width="2" height="1"/>
<rect x="756" y="248" width="2" height="1"/>
<rect x="763" y="217" width="1" height="32"/>
<rect x="761" y="248" width="2" height="1"/>
<rect x="764" y="229" width="2" height="1"/>
<rect x="771" y="214" width="1" height="25"/>
<rect x="769" y="229" width="2" height="1"/>
<rect x="772" y="228" width="2" height="1"/>
<rect x="779" y="203" width="1" height="35"/>
<rect x="777" y="227" width="2" height="1"/>
<rect x="780" y="206" width="2" height="1"/>
<rect x="787" y="195" width="1" height="25"/>
<rect x="785" y="206" width="2" height="1"/>
<rect x="788" y="208" width="2" height="1"/>
<rect x="795" y="201" width="1" height="39"/>
<rect x="793" y="208" width="2" height="1"/>
<rect x="796" y="214" width="2" height="1"/>
</g>
</g>
<line x1="810.5" y1="215.0" x2="835.6" y2="188.5" stroke="#000" stroke-width="2.2"/>
<polygon points="841.8,182.0 838.3,192.5 831.5,186.0" fill="#000"/>
<line x1="856.1" y1="164.6" x2="868.1" y2="157.6" stroke="#000" stroke-width="2.2"/>
<polygon points="875.9,153.1 869.6,162.2 864.9,154.1" fill="#000"/>
<line x1="878.9" y1="141.9" x2="911.8" y2="74.3" stroke="#000" stroke-width="2.2"/>
<polygon points="915.7,66.2 915.6,77.2 907.1,73.1" fill="#000"/>
<line x1="893.1" y1="148.5" x2="956.6" y2="245.3" stroke="#000" stroke-width="2.2"/>
<polygon points="961.5,252.8 952.1,247.0 959.9,241.9" fill="#000"/>
<line x1="863.4" y1="186.1" x2="895.6" y2="248.6" stroke="#000" stroke-width="2.2"/>
<polygon points="899.7,256.6 890.9,249.9 899.3,245.6" fill="#000"/>
<g shape-rendering="crispEdges" fill="#000000">
<rect x="2" y="2" width="1016" height="1" fill="#000"/>
<rect x="2" y="290" width="1016" height="1" fill="#000"/>
<rect x="2" y="2" width="1" height="289" fill="#000"/>
<rect x="1017" y="2" width="1" height="289" fill="#000"/>
<rect x="2" y="292" width="1016" height="1" fill="#000"/>
<rect x="2" y="366" width="1016" height="1" fill="#000"/>
<rect x="2" y="292" width="1" height="75" fill="#000"/>
<rect x="1017" y="292" width="1" height="75" fill="#000"/>
<rect x="2" y="368" width="1016" height="1" fill="#000"/>
<rect x="2" y="437" width="1016" height="1" fill="#000"/>
<rect x="2" y="368" width="1" height="70" fill="#000"/>
<rect x="1017" y="368" width="1" height="70" fill="#000"/>
<rect x="1018" y="23" width="2" height="1" fill="#000"/>
<rect x="1018" y="56" width="2" height="1" fill="#000"/>
<rect x="1018" y="89" width="2" height="1" fill="#000"/>
<rect x="1018" y="122" width="2" height="1" fill="#000"/>
<rect x="1018" y="155" width="2" height="1" fill="#000"/>
<rect x="1018" y="188" width="2" height="1" fill="#000"/>
<rect x="1018" y="221" width="2" height="1" fill="#000"/>
<rect x="1018" y="254" width="2" height="1" fill="#000"/>
<rect x="1018" y="287" width="2" height="1" fill="#000"/>
<rect x="1018" y="294" width="1" height="1" fill="#000"/>
<rect x="1018" y="324" width="1" height="1" fill="#000"/>
<rect x="1018" y="365" width="1" height="1" fill="#000"/>
<rect x="1018" y="370" width="1" height="1" fill="#000"/>
<rect x="1018" y="401" width="1" height="1" fill="#000"/>
<rect x="1018" y="436" width="1" height="1" fill="#000"/>
<rect x="3" y="438" width="1" height="3" fill="#000"/>
<rect x="67" y="438" width="1" height="3" fill="#000"/>
<rect x="131" y="438" width="1" height="3" fill="#000"/>
<rect x="195" y="438" width="1" height="3" fill="#000"/>
<rect x="259" y="438" width="1" height="3" fill="#000"/>
<rect x="323" y="438" width="1" height="3" fill="#000"/>
<rect x="387" y="438" width="1" height="3" fill="#000"/>
<rect x="451" y="438" width="1" height="3" fill="#000"/>
<rect x="515" y="438" width="1" height="3" fill="#000"/>
<rect x="579" y="438" width="1" height="3" fill="#000"/>
<rect x="643" y="438" width="1" height="3" fill="#000"/>
<rect x="707" y="438" width="1" height="3" fill="#000"/>
<rect x="771" y="438" width="1" height="3" fill="#000"/>
<rect x="1019" y="138" width="41" height="11" fill="#008000"/>
<rect x="1019" y="172" width="41" height="11" fill="#008000"/>
<rect x="1019" y="208" width="41" height="11" fill="#000000"/>
<rect x="1017" y="214" width="2" height="1" fill="#c0c0c0"/>
<rect x="6" y="9" width="7" height="1" fill="#000"/>
<rect x="7" y="10" width="5" height="1" fill="#000"/>
<rect x="8" y="11" width="3" height="1" fill="#000"/>
<rect x="9" y="12" width="1" height="1" fill="#000"/>
</g>
<g font-family="'Liberation Sans', Arial, sans-serif" font-size="10px" text-rendering="geometricPrecision">
<text transform="translate(1023.2,25.85) scale(0.905,1)" fill="#000" stroke="#000" stroke-width="0.15">1.14290</text>
<text transform="translate(1023.2,58.85) scale(0.905,1)" fill="#000" stroke="#000" stroke-width="0.15">1.13910</text>
<text transform="translate(1023.2,91.85) scale(0.905,1)" fill="#000" stroke="#000" stroke-width="0.15">1.13540</text>
<text transform="translate(1023.2,124.85) scale(0.905,1)" fill="#000" stroke="#000" stroke-width="0.15">1.13170</text>
<text transform="translate(1023.2,157.85) scale(0.905,1)" fill="#000" stroke="#000" stroke-width="0.15">1.12790</text>
<text transform="translate(1023.2,190.85) scale(0.905,1)" fill="#000" stroke="#000" stroke-width="0.15">1.12420</text>
<text transform="translate(1023.2,223.85) scale(0.905,1)" fill="#000" stroke="#000" stroke-width="0.15">1.12050</text>
<text transform="translate(1023.2,256.85) scale(0.905,1)" fill="#000" stroke="#000" stroke-width="0.15">1.11670</text>
<text transform="translate(1023.2,289.85) scale(0.905,1)" fill="#000" stroke="#000" stroke-width="0.15">1.11300</text>
<text transform="translate(1023.2,146.85) scale(0.905,1)" fill="#fff" stroke="#fff" stroke-width="0.15">1.12918</text>
<text transform="translate(1023.2,180.85) scale(0.905,1)" fill="#fff" stroke="#fff" stroke-width="0.15">1.12534</text>
<text transform="translate(1023.2,216.85) scale(0.905,1)" fill="#fff" stroke="#fff" stroke-width="0.15">1.12124</text>
<text transform="translate(1021.0,302.85) scale(0.92,1)" fill="#000" stroke="#000" stroke-width="0.15">0.0095</text>
<text transform="translate(1021.0,326.85) scale(0.93,1)" fill="#000" stroke="#000" stroke-width="0.15">0.00</text>
<text transform="translate(1021.0,362.85) scale(0.92,1)" fill="#000" stroke="#000" stroke-width="0.15">-0.013296</text>
<text transform="translate(1021.0,378.85) scale(0.92,1)" fill="#000" stroke="#000" stroke-width="0.15">0.0022447</text>
<text transform="translate(1021.0,403.85) scale(0.93,1)" fill="#000" stroke="#000" stroke-width="0.15">0.00</text>
<text transform="translate(1021.0,433.85) scale(0.92,1)" fill="#000" stroke="#000" stroke-width="0.15">-0.002528</text>
<text transform="translate(2.4,449.85) scale(0.91,1)" fill="#000" stroke="#000" stroke-width="0.15">18 Jun 2015</text>
<text transform="translate(66.4,449.85) scale(0.91,1)" fill="#000" stroke="#000" stroke-width="0.15">18 Jun 17:00</text>
<text transform="translate(130.4,449.85) scale(0.91,1)" fill="#000" stroke="#000" stroke-width="0.15">19 Jun 01:00</text>
<text transform="translate(194.4,449.85) scale(0.91,1)" fill="#000" stroke="#000" stroke-width="0.15">19 Jun 09:00</text>
<text transform="translate(258.4,449.85) scale(0.91,1)" fill="#000" stroke="#000" stroke-width="0.15">19 Jun 17:00</text>
<text transform="translate(322.4,449.85) scale(0.91,1)" fill="#000" stroke="#000" stroke-width="0.15">22 Jun 01:00</text>
<text transform="translate(386.4,449.85) scale(0.91,1)" fill="#000" stroke="#000" stroke-width="0.15">22 Jun 09:00</text>
<text transform="translate(450.4,449.85) scale(0.91,1)" fill="#000" stroke="#000" stroke-width="0.15">22 Jun 17:00</text>
<text transform="translate(514.4,449.85) scale(0.91,1)" fill="#000" stroke="#000" stroke-width="0.15">23 Jun 01:00</text>
<text transform="translate(578.4,449.85) scale(0.91,1)" fill="#000" stroke="#000" stroke-width="0.15">23 Jun 09:00</text>
<text transform="translate(642.4,449.85) scale(0.91,1)" fill="#000" stroke="#000" stroke-width="0.15">23 Jun 17:00</text>
<text transform="translate(706.4,449.85) scale(0.91,1)" fill="#000" stroke="#000" stroke-width="0.15">24 Jun 01:00</text>
<text transform="translate(770.4,449.85) scale(0.91,1)" fill="#000" stroke="#000" stroke-width="0.15">24 Jun 09:00</text>
<text transform="translate(18.4,13.85) scale(0.912,1)" fill="#000" stroke="#000" stroke-width="0.15">EURUSD,H1</text>
<text transform="translate(78.3,13.85) scale(0.905,1)" fill="#000" stroke="#000" stroke-width="0.15">1.12190</text>
<text transform="translate(114.0,13.85) scale(0.905,1)" fill="#000" stroke="#000" stroke-width="0.15">1.12277</text>
<text transform="translate(150.2,13.85) scale(0.905,1)" fill="#000" stroke="#000" stroke-width="0.15">1.11834</text>
<text transform="translate(186.0,13.85) scale(0.905,1)" fill="#000" stroke="#000" stroke-width="0.15">1.12124</text>
</g>
</svg>
</body></html>
